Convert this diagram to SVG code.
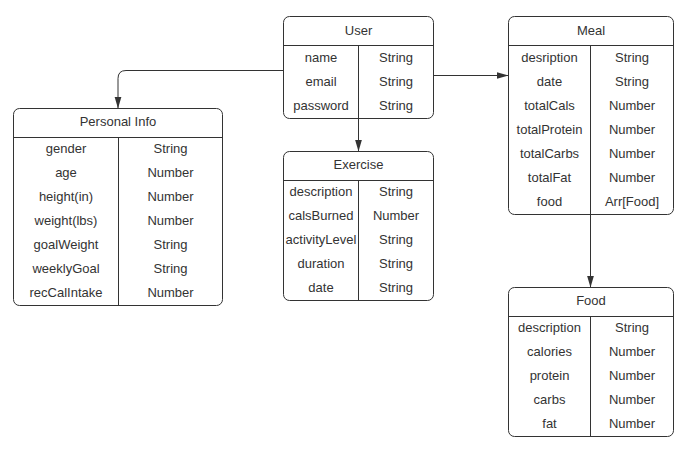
<svg xmlns="http://www.w3.org/2000/svg" width="688" height="451" viewBox="0 0 688 451">
<style>
.box{fill:#fff;stroke:#333;stroke-width:1}
.ln{stroke:#333;stroke-width:1;fill:none}
text{font-family:"Liberation Sans",Arial,sans-serif;font-size:13px;fill:#333;text-anchor:middle}
.conn{stroke:#333;stroke-width:1;fill:none}
</style>
<defs>
<marker id="arr" markerUnits="userSpaceOnUse" markerWidth="12" markerHeight="8" refX="12" refY="3.5" orient="auto">
<path d="M0,0 L12,3.5 L0,7 z" fill="#333"/>
</marker>
</defs>
<rect width="688" height="451" fill="#fff"/>
<g id="connectors">
<path class="conn" d="M283.5,70.5 H126 Q118,70.5 118,78.5 V108.5" marker-end="url(#arr)"/>
<path class="conn" d="M358.5,118.5 V151.5" marker-end="url(#arr)"/>
<path class="conn" d="M433.5,75.5 H508.5" marker-end="url(#arr)"/>
<path class="conn" d="M590.5,214.5 V287.5" marker-end="url(#arr)"/>
</g>
<g id="user">
<rect class="box" x="283.5" y="16.5" width="150" height="102" rx="6"/>
<path class="ln" d="M283.5,45.5 H433.5 M358.5,45.5 V118.5"/>
<text x="358.5" y="35">User</text>
<text x="321" y="62">name</text><text x="396" y="62">String</text>
<text x="321" y="86">email</text><text x="396" y="86">String</text>
<text x="321" y="110">password</text><text x="396" y="110">String</text>
</g>
<g id="personal-info">
<rect class="box" x="13.5" y="108.5" width="209" height="197" rx="6"/>
<path class="ln" d="M13.5,137.5 H222.5 M118.5,137.5 V305.5"/>
<text x="118" y="126">Personal Info</text>
<text x="66" y="153">gender</text><text x="170.5" y="153">String</text>
<text x="66" y="177">age</text><text x="170.5" y="177">Number</text>
<text x="66" y="201">height(in)</text><text x="170.5" y="201">Number</text>
<text x="66" y="225">weight(lbs)</text><text x="170.5" y="225">Number</text>
<text x="66" y="249">goalWeight</text><text x="170.5" y="249">String</text>
<text x="66" y="273">weeklyGoal</text><text x="170.5" y="273">String</text>
<text x="66" y="297">recCalIntake</text><text x="170.5" y="297">Number</text>
</g>
<g id="exercise">
<rect class="box" x="283.5" y="151.5" width="150" height="149" rx="6"/>
<path class="ln" d="M283.5,180.5 H433.5 M358.5,180.5 V300.5"/>
<text x="358.5" y="169">Exercise</text>
<text x="321" y="196">description</text><text x="396" y="196">String</text>
<text x="321" y="220">calsBurned</text><text x="396" y="220">Number</text>
<text x="321" y="244">activityLevel</text><text x="396" y="244">String</text>
<text x="321" y="268">duration</text><text x="396" y="268">String</text>
<text x="321" y="292">date</text><text x="396" y="292">String</text>
</g>
<g id="meal">
<rect class="box" x="508.5" y="16.5" width="165" height="198" rx="6"/>
<path class="ln" d="M508.5,45.5 H673.5 M590.5,45.5 V214.5"/>
<text x="591" y="35">Meal</text>
<text x="549.5" y="62">desription</text><text x="632" y="62">String</text>
<text x="549.5" y="86">date</text><text x="632" y="86">String</text>
<text x="549.5" y="110">totalCals</text><text x="632" y="110">Number</text>
<text x="549.5" y="134">totalProtein</text><text x="632" y="134">Number</text>
<text x="549.5" y="158">totalCarbs</text><text x="632" y="158">Number</text>
<text x="549.5" y="182">totalFat</text><text x="632" y="182">Number</text>
<text x="549.5" y="206">food</text><text x="632" y="206">Arr[Food]</text>
</g>
<g id="food">
<rect class="box" x="508.5" y="287.5" width="165" height="149" rx="6"/>
<path class="ln" d="M508.5,316.5 H673.5 M590.5,316.5 V436.5"/>
<text x="591" y="305">Food</text>
<text x="549.5" y="332">description</text><text x="632" y="332">String</text>
<text x="549.5" y="356">calories</text><text x="632" y="356">Number</text>
<text x="549.5" y="380">protein</text><text x="632" y="380">Number</text>
<text x="549.5" y="404">carbs</text><text x="632" y="404">Number</text>
<text x="549.5" y="428">fat</text><text x="632" y="428">Number</text>
</g>
</svg>
